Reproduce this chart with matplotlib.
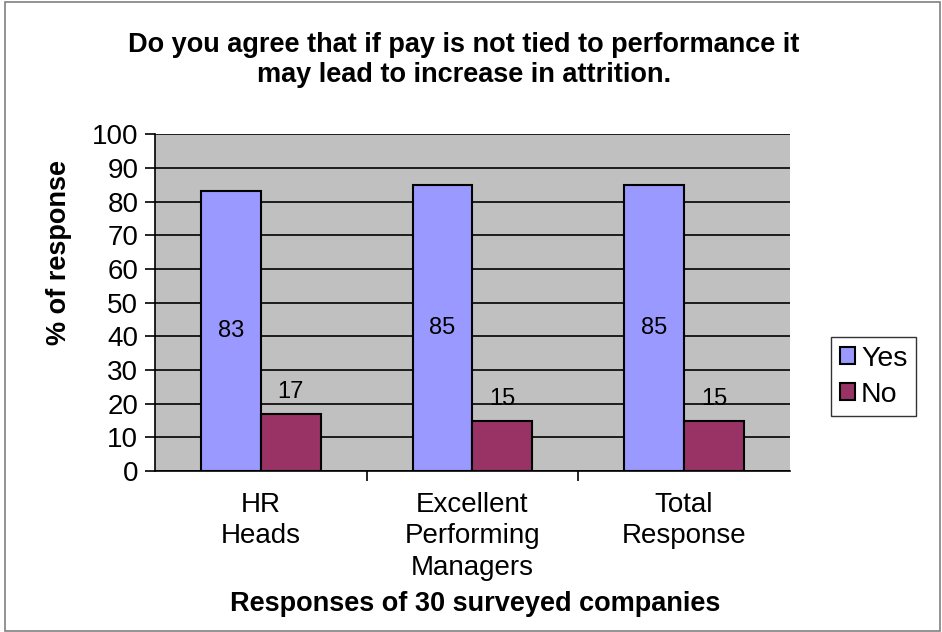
import numpy as np
import matplotlib.pyplot as plt
from matplotlib.patches import Rectangle

plt.rcParams['font.family'] = ['Liberation Sans', 'DejaVu Sans']

categories = ['HR\nHeads', 'Excellent\nPerforming\nManagers', 'Total\nResponse']
yes_vals = [83, 85, 85]
no_vals = [17, 15, 15]

fig = plt.figure(figsize=(9.42, 6.32), dpi=100)
ax = fig.add_axes([0.1645, 0.2547, 0.674, 0.533])
ax.set_facecolor('#c0c0c0')

x = np.arange(len(categories))
w = 0.283
ax.bar(x - w / 2, yes_vals, w, color='#9999ff', edgecolor='black', linewidth=1.5, label='Yes', zorder=3)
ax.bar(x + w / 2, no_vals, w, color='#993366', edgecolor='black', linewidth=1.5, label='No', zorder=3)

# value labels: Yes in the middle of the bar, No just above it
for xi, v in zip(x - w / 2, yes_vals):
    ax.text(xi, v / 2, str(v), ha='center', va='center', fontsize=17, zorder=4)
for xi, v in zip(x + w / 2, no_vals):
    ax.text(xi, v + 6.5, str(v), ha='center', va='center', fontsize=17, zorder=4)

ax.set_xlim(-0.5, 2.5)
ax.set_ylim(0, 100)
ax.set_yticks(range(0, 101, 10))
ax.yaxis.grid(True, color='black', linewidth=1.2, zorder=1)
ax.set_axisbelow(True)
ax.set_xticks([0.5, 1.5], minor=False)
ax.set_xticklabels([])
ax.set_xticks(x, minor=True)
ax.set_xticklabels(categories, minor=True, fontsize=20, linespacing=1.28)
ax.tick_params(axis='x', which='minor', length=0, pad=15)
ax.tick_params(axis='x', which='major', length=7, direction='out', width=1.2)
ax.tick_params(axis='y', length=7, direction='out', width=1.2, labelsize=20, pad=5)
for side in ['top', 'right']:
    ax.spines[side].set_visible(False)
ax.spines['left'].set_linewidth(1.2)
ax.spines['bottom'].set_linewidth(1.2)

ax.set_ylabel('% of response', fontsize=19.5, fontweight='bold')
ax.yaxis.set_label_coords(-0.130, 0.65)
ax.set_xlabel('Responses of 30 surveyed companies', fontsize=19.5, fontweight='bold')
ax.xaxis.set_label_coords(0.505, -0.355)
fig.text(0.4926, 0.9045, 'Do you agree that if pay is not tied to performance it\nmay lead to increase in attrition.',
         ha='center', va='center', fontsize=19.5, fontweight='bold', linespacing=1.19)

leg = ax.legend(loc='center left', bbox_to_anchor=(1.065, 0.28), fontsize=20.5, frameon=True,
                fancybox=False, edgecolor='black', handlelength=0.55, handleheight=0.55,
                handletextpad=0.2, borderpad=0.3, labelspacing=0.35, borderaxespad=0)
leg.get_frame().set_linewidth(1.0)

fig.patches.append(Rectangle((0.005, 0.002), 0.993, 0.995, transform=fig.transFigure,
                             fill=False, edgecolor='#808080', linewidth=1.2))

fig.savefig('out.png', dpi=100)
